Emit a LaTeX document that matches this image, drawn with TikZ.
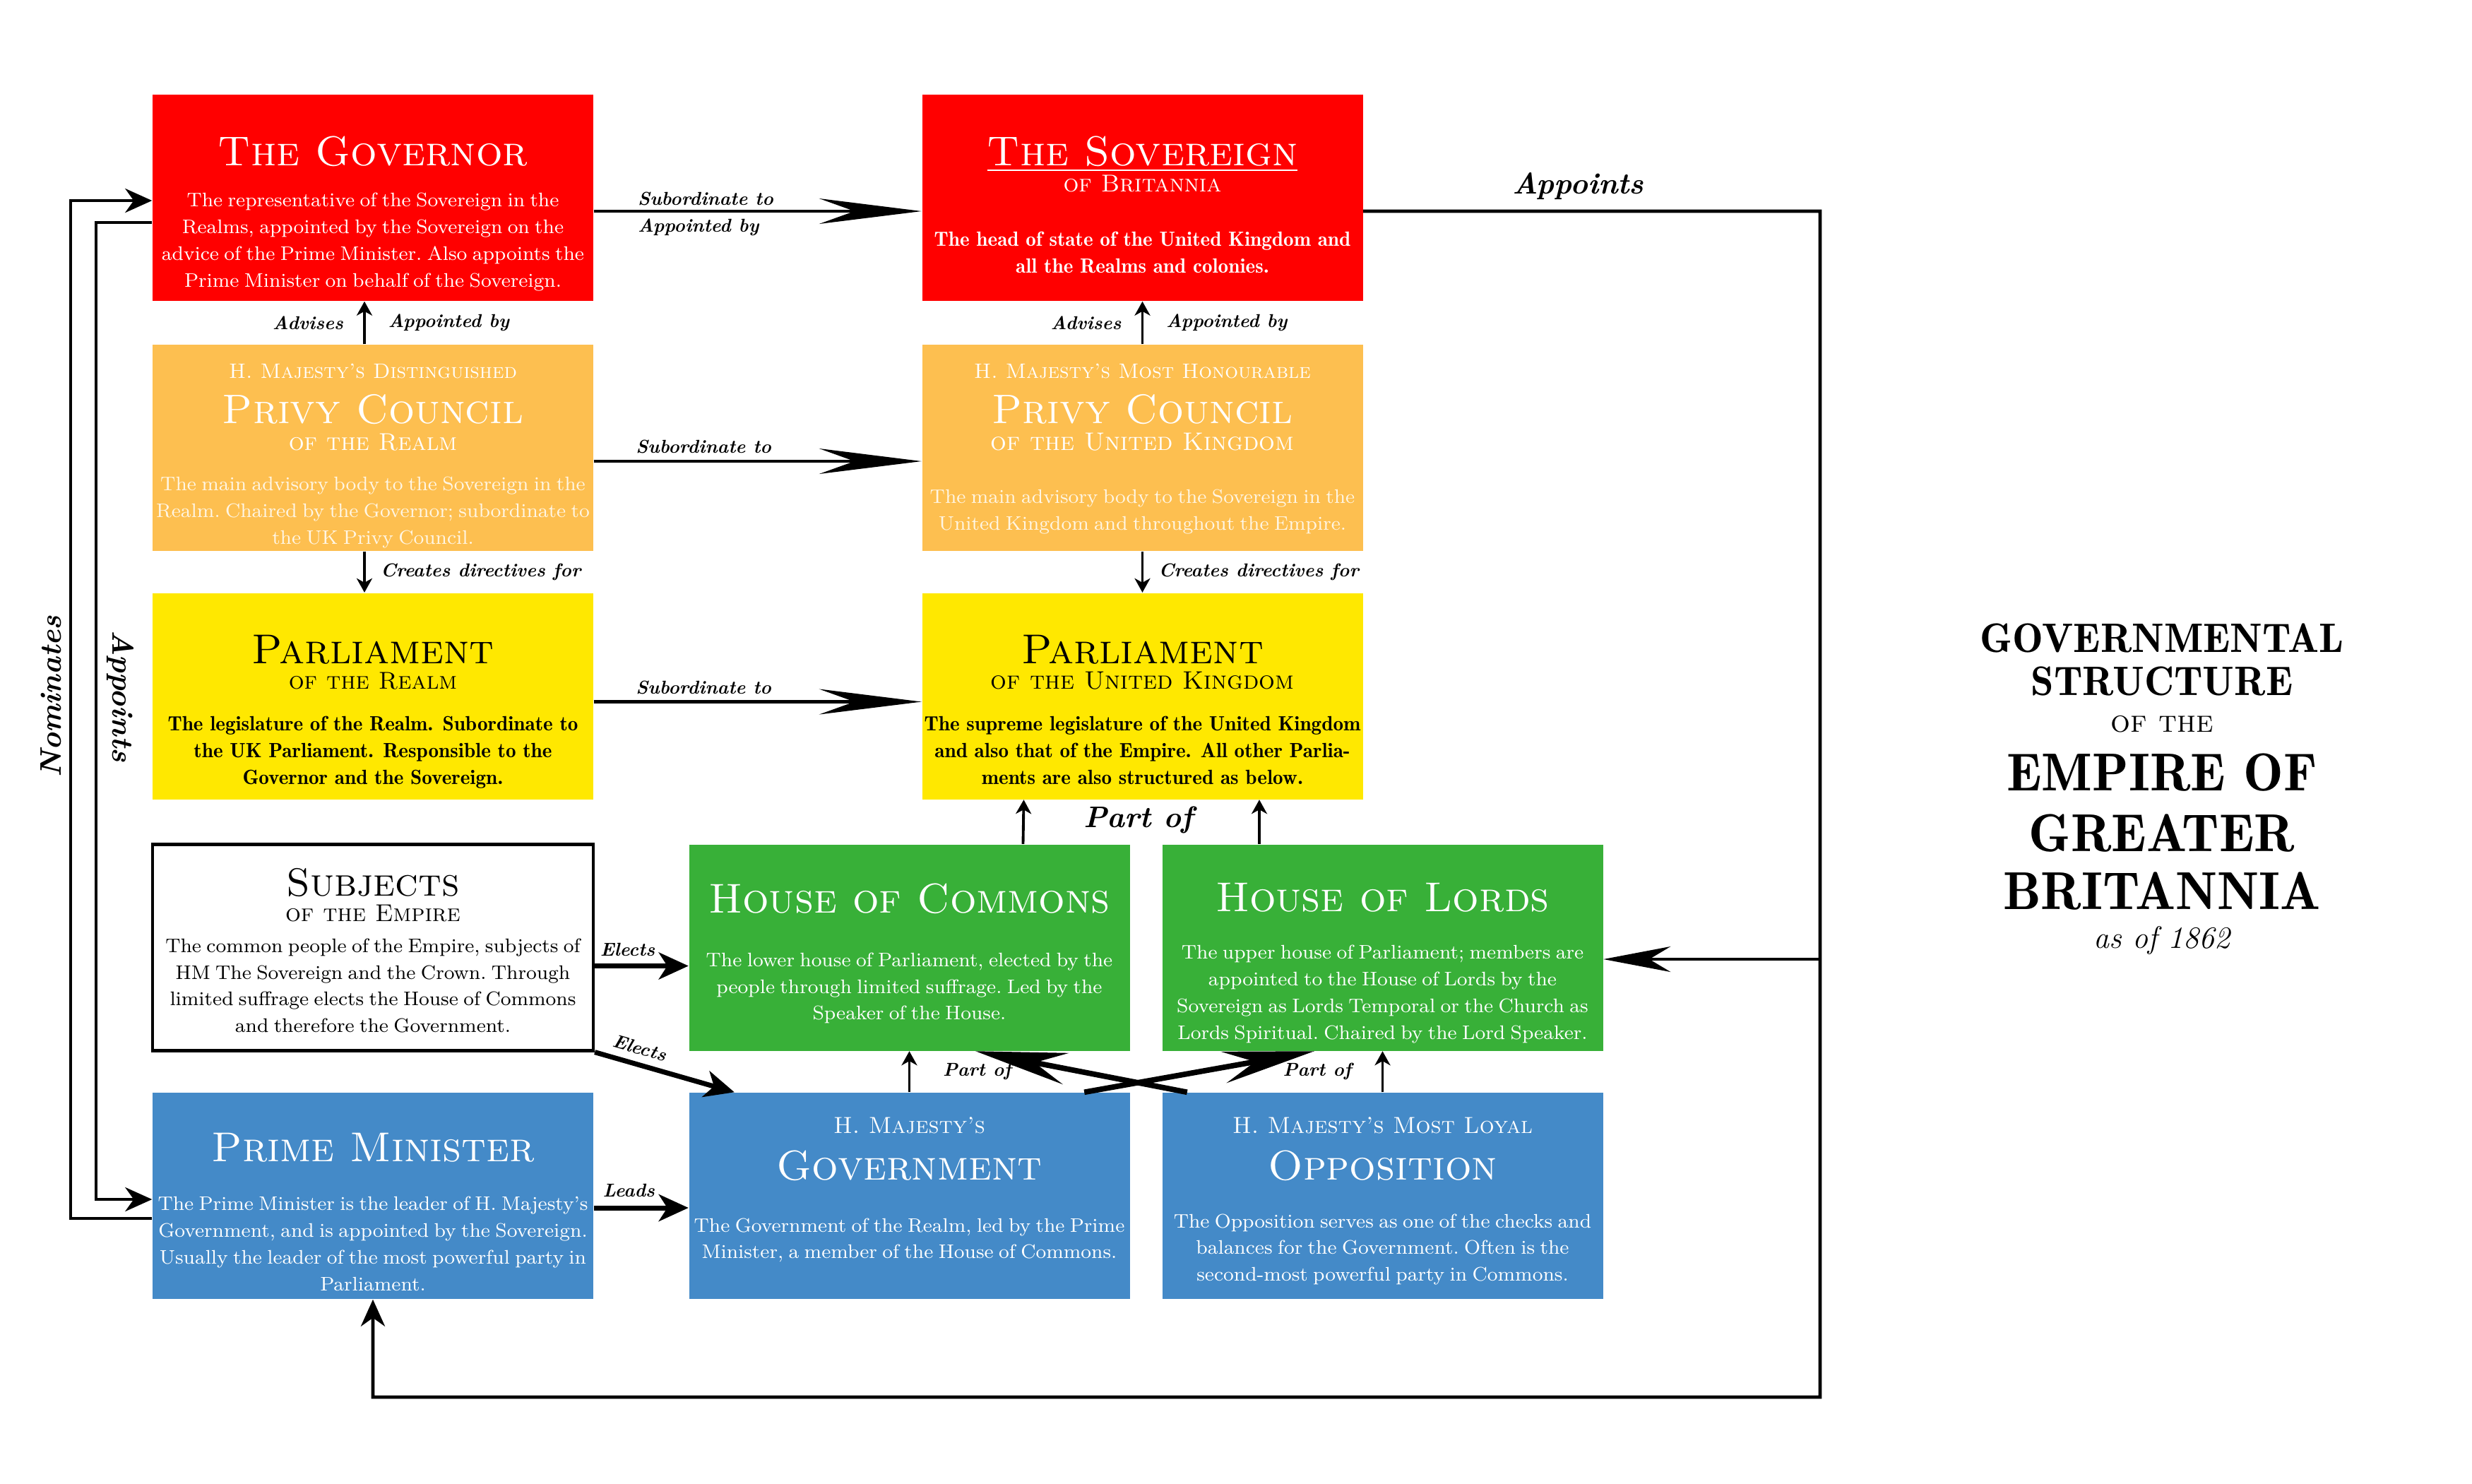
\documentclass[tikz,border=0pt]{standalone}
\usepackage{tikz}
\usetikzlibrary{arrows.meta, positioning, calc}

\definecolor{crownred}{RGB}{255,0,0}
\definecolor{councilorange}{RGB}{253,191,80}
\definecolor{parlyellow}{RGB}{255,232,0}
\definecolor{housegreen}{RGB}{56,176,56}
\definecolor{govblue}{RGB}{68,138,200}
\definecolor{cream}{RGB}{255,246,228}

\newcommand\bodyfont{\fontsize{7.9}{10.8}\selectfont\frenchspacing\spaceskip=2.1pt\lineskiplimit=-100pt\relax}
\newcommand\boldbodyfont{\fontsize{8.3}{10.8}\fontseries{b}\selectfont\lineskiplimit=-100pt\relax}
\newcommand\headfont{\fontsize{12}{0}\selectfont\lineskiplimit=-100pt\relax}
\newcommand\bigsc[2][16.8]{{\fontsize{#1}{16}\fontseries{m}\selectfont\spaceskip=0pt\textsc{#2}}}
\newcommand\midsc[2][9.8]{{\fontsize{#1}{10}\fontseries{m}\selectfont\spaceskip=0pt\textsc{#2}}}
\newcommand\lblfont{\fontsize{7.5}{11}\selectfont\bfseries\itshape}
\newcommand\biglblfont{\fontsize{12}{13}\selectfont\bfseries\itshape}

\begin{document}
\begin{tikzpicture}[
  > = Stealth,
  panel/.style = {minimum width=6.24cm, minimum height=2.92cm, inner sep=0pt},
  txt/.style = {align=center, inner sep=0pt, font=\bodyfont},
  boldtxt/.style = {align=center, inner sep=0pt, font=\boldbodyfont},
  lbl/.style = {font=\lblfont, inner sep=1pt},
  biglbl/.style = {font=\biglblfont, inner sep=1pt},
  long arrow/.style = {line width=1.3pt, -{Stealth[length=1.45cm, width=0.36cm, inset=0.5cm]}},
  cross arrow/.style = {line width=2.2pt, -{Stealth[length=1.3cm, width=0.45cm, inset=0.45cm]}},
  mid arrow/.style = {line width=1.4pt, -{Stealth[length=0.38cm, width=0.34cm, inset=0.12cm]}},
  thick arrow/.style = {line width=2pt, -{Stealth[length=0.42cm, width=0.38cm, inset=0.12cm]}},
  small arrow/.style = {line width=1.1pt, -{Stealth[length=0.2cm, width=0.22cm, inset=0.06cm]}}
  ]
  \useasboundingbox (0,0) rectangle (35,-21);

  % the panels
  \node[panel, fill=crownred] (gov) at (5.28,-2.80) {};
  \node[panel, fill=crownred] (sov) at (16.175,-2.80) {};
  \node[panel, fill=councilorange] (prc) at (5.28,-6.34) {};
  \node[panel, fill=councilorange] (pru) at (16.175,-6.34) {};
  \node[panel, fill=parlyellow] (par) at (5.28,-9.855) {};
  \node[panel, fill=parlyellow] (pau) at (16.175,-9.855) {};
  \node[panel, draw, line width=1.2pt, fill=white] (sub) at (5.28,-13.415) {};
  \node[panel, fill=housegreen] (hoc) at (12.875,-13.415) {};
  \node[panel, fill=housegreen] (hol) at (19.575,-13.415) {};
  \node[panel, fill=govblue] (pm) at (5.28,-16.93) {};
  \node[panel, fill=govblue] (gv) at (12.875,-16.93) {};
  \node[panel, fill=govblue] (opp) at (19.575,-16.93) {};

  % their texts
  \node[txt, text=white, below=0.59cm of gov.north] (gov-t) {\bigsc{The Governor}\\[5.7pt]
    The representative of the Sovereign in the\\
    Realms, appointed by the Sovereign on the\\
    advice of the Prime Minister. Also appoints the\\
    Prime Minister on behalf of the Sovereign.};
  \node[boldtxt, text=white, below=0.59cm of sov.north] (sov-t) {\underline{\bigsc{The Sovereign}}\\[-0.3pt]
    \midsc{of Britannia}\\[11.1pt]
    The head of state of the United Kingdom and\\
    all the Realms and colonies.};
  \node[txt, text=cream, below=0.27cm of prc.north] (prc-t) {\textcolor{white}{\midsc[8.4]{H. Majesty's Distinguished}}\\[7.4pt]
    \textcolor{white}{\bigsc[16.6]{Privy Council}}\\
    \textcolor{white}{\midsc{of the Realm}}\\[5.4pt]
    The main advisory body to the Sovereign in the\\
    Realm. Chaired by the Governor; subordinate to\\
    the UK Privy Council.};
  \node[txt, text=cream, below=0.27cm of pru.north] (pru-t) {\textcolor{white}{\midsc[8.4]{H. Majesty's Most Honourable}}\\[7.4pt]
    \textcolor{white}{\bigsc[16.6]{Privy Council}}\\
    \textcolor{white}{\midsc[10.2]{of the United Kingdom}}\\[10.5pt]
    The main advisory body to the Sovereign in the\\
    United Kingdom and throughout the Empire.};
  \node[boldtxt, below=0.6cm of par.north] (par-t) {\bigsc{Parliament}\\[-0.6pt]
    \midsc{of the Realm}\\[6pt]
    The legislature of the Realm. Subordinate to\\
    the UK Parliament. Responsible to the\\
    Governor and the Sovereign.};
  \node[boldtxt, below=0.6cm of pau.north] (pau-t) {\bigsc{Parliament}\\[-0.6pt]
    \midsc[10.2]{of the United Kingdom}\\[6pt]
    The supreme legislature of the United Kingdom\\
    and also that of the Empire. All other Parlia-\\
    ments are also structured as below.};
  \node[txt, below=0.35cm of sub.north] (sub-t) {\bigsc[15.8]{Subjects}\\[-0.6pt]
    \midsc{of the Empire}\\[1.7pt]
    The common people of the Empire, subjects of\\
    HM The Sovereign and the Crown. Through\\
    limited suffrage elects the House of Commons\\
    and therefore the Government.};
  \node[txt, text=white, below=0.55cm of hoc.north] (hoc-t) {\bigsc{House of Commons}\\[10.8pt]
    The lower house of Parliament, elected by the\\
    people through limited suffrage. Led by the\\
    Speaker of the House.};
  \node[txt, text=white, below=0.55cm of hol.north] (hol-t) {\bigsc{House of Lords}\\[8.3pt]
    The upper house of Parliament; members are\\
    appointed to the House of Lords by the\\
    Sovereign as Lords Temporal or the Church as\\
    Lords Spiritual. Chaired by the Lord Speaker.};
  \node[txt, text=white, below=0.57cm of pm.north] (pm-t) {\bigsc{Prime Minister}\\[8.8pt]
    The Prime Minister is the leader of H. Majesty's\\
    Government, and is appointed by the Sovereign.\\
    Usually the leader of the most powerful party in\\
    Parliament.};
  \node[txt, text=white, below=0.35cm of gv.north] (gv-t) {\midsc[9.35]{H. Majesty's}\\[8pt]
    \bigsc{Government}\\[10pt]
    The Government of the Realm, led by the Prime\\
    Minister, a member of the House of Commons.};
  \node[txt, text=white, below=0.35cm of opp.north] (opp-t) {\midsc[9.35]{H. Majesty's Most Loyal}\\[8pt]
    \bigsc{Opposition}\\[8.3pt]
    The Opposition serves as one of the checks and\\
    balances for the Government. Often is the\\
    second-most powerful party in Commons.};

  % heading
  \node[align=center, inner sep=0pt, anchor=north, font=\headfont] (maintitle) at (30.61,-8.82) {%
    {\fontsize{16.6}{0}\fontseries{b}\selectfont GOVERNMENTAL}\\[17.4pt]
    {\fontsize{16.6}{0}\fontseries{b}\selectfont STRUCTURE}\\[14.8pt]
    {\fontsize{12.5}{0}\selectfont\textsc{of the}}\\[23.6pt]
    {\fontsize{21.5}{0}\fontseries{b}\selectfont EMPIRE OF}\\[24.5pt]
    {\fontsize{21.5}{0}\fontseries{b}\selectfont GREATER}\\[23.3pt]
    {\fontsize{21.5}{0}\fontseries{b}\selectfont BRITANNIA}\\[15.6pt]
    {\fontsize{12.5}{0}\itshape as of 1862}};

  % subordination
  \draw[long arrow] ([yshift=-0.19cm]gov.east) -- ([yshift=-0.19cm]sov.west);
  \node[lbl, align=left, anchor=west] (subapp) at (8.99,-3.03) {Subordinate to\\Appointed by};
  \draw[long arrow] ([yshift=-0.19cm]prc.east) -- node[lbl, pos=0.335, above=1.5pt] (sub2) {Subordinate to} ([yshift=-0.19cm]pru.west);
  \draw[long arrow] ([yshift=-0.08cm]par.east) -- node[lbl, pos=0.335, above=1.5pt] (sub3) {Subordinate to} ([yshift=-0.08cm]pau.west);

  % advice and directives
  \draw[small arrow] ([xshift=-0.12cm]prc.north) -- node[lbl, midway, left=7pt] (adv1) {Advises} node[lbl, midway, right=8pt] (apb1) {Appointed by} ([xshift=-0.12cm]gov.south);
  \draw[small arrow] (pru.north) -- node[lbl, midway, left=7pt] (adv2) {Advises} node[lbl, midway, right=8pt] (apb2) {Appointed by} (sov.south);
  \draw[small arrow] ([xshift=-0.12cm]prc.south) -- node[lbl, midway, right=5pt] (dir1) {Creates directives for} ([xshift=-0.12cm]par.north);
  \draw[small arrow] (pru.south) -- node[lbl, midway, right=5pt] (dir2) {Creates directives for} (pau.north);

  % houses
  \draw[small arrow] ([xshift=1.61cm]hoc.north) -- ([xshift=-1.68cm]pau.south);
  \draw[small arrow] ([xshift=-1.745cm]hol.north) -- ([xshift=1.655cm]pau.south);
  \node[biglbl] (partof) at (16.12,-11.61) {Part of};
  \draw[small arrow] (gv.north) -- node[lbl, midway, right=12pt] (po1) {Part of} (hoc.south);
  \draw[small arrow] (opp.north) -- node[lbl, midway, left=11pt] (po2) {Part of} (hol.south);
  \draw[cross arrow] ([xshift=-0.65cm]gv.north east) -- ([xshift=2.16cm]hol.south west);
  \draw[cross arrow] ([xshift=0.36cm]opp.north west) -- ([xshift=-2.19cm]hoc.south east);

  % subjects and ministers
  \draw[thick arrow] ([yshift=-0.26cm]sub.east) -- node[lbl, pos=0.35, above=2pt] (el1) {Elects} ([yshift=-0.26cm]hoc.west);
  \draw[thick arrow] (sub.south east) -- node[lbl, pos=0.29, sloped, above=2pt] (el2) {Elects} ([xshift=0.65cm]gv.north west);
  \draw[thick arrow] ([yshift=-0.17cm]pm.east) -- node[lbl, pos=0.37, above=2.5pt] (lead) {Leads} ([yshift=-0.17cm]gv.west);

  % left loops
  \draw[mid arrow] ([yshift=-0.32cm]pm.west) -| (1.00,-9.86) |- ([yshift=-0.04cm]gov.west);
  \draw[mid arrow] ([yshift=-0.35cm]gov.west) -| (1.36,-9.86) |- ([yshift=-0.05cm]pm.west);
  \node[biglbl, rotate=90] (nom) at (0.72,-9.86) {Nominates};
  \node[biglbl, rotate=-90] (apl) at (1.70,-9.86) {Appoints};

  % right loop
  \coordinate (branch) at (25.77,-13.58);
  \draw[mid arrow] ([yshift=-0.19cm]sov.east) -- node[biglbl, pos=0.47, above=3pt] (apr) {Appoints} (25.77,-2.99) -- (25.77,-19.78) -| (pm.south);
  \draw[line width=1.4pt, -{Stealth[length=0.95cm, width=0.36cm, inset=0.3cm]}] (branch) -- (branch -| hol.east);
\end{tikzpicture}
\end{document}
